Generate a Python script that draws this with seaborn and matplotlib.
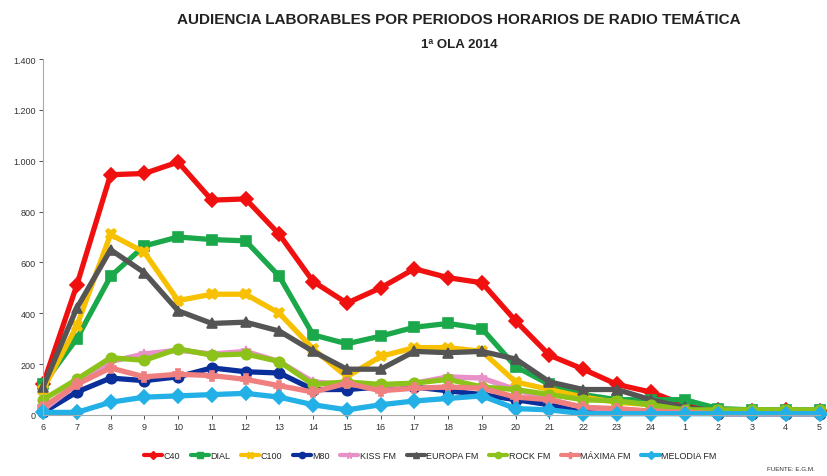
import matplotlib
matplotlib.use("Agg")
import matplotlib.pyplot as plt
import matplotlib.ticker as mticker
import seaborn as sns
import pandas as pd

# ---------------------------------------------------------------------------
# Data (audiencia, miles)
# ---------------------------------------------------------------------------
hours = ["6", "7", "8", "9", "10", "11", "12", "13", "14", "15", "16", "17",
         "18", "19", "20", "21", "22", "23", "24", "1", "2", "3", "4", "5"]

c40 = [120, 510, 945, 950, 995, 845, 850, 710, 525, 440, 500, 575,
       540, 520, 370, 235, 180, 120, 90, 40, 20, 15, 20, 15]
dial = [120, 300, 545, 665, 700, 690, 685, 545, 315, 280, 310, 345,
        360, 340, 190, 120, 80, 60, 60, 60, 25, 20, 20, 20]
c100 = [100, 350, 710, 640, 450, 475, 475, 400, 260, 150, 230, 265,
        265, 250, 130, 100, 70, 50, 40, 20, 15, 10, 15, 10]
m80 = [10, 90, 145, 135, 150, 185, 170, 165, 100, 100, 110, 110,
       95, 80, 60, 40, 20, 20, 15, 10, 5, 5, 5, 5]
kiss = [20, 120, 210, 240, 255, 240, 250, 210, 130, 120, 115, 125,
        150, 145, 100, 60, 30, 20, 15, 10, 5, 5, 5, 5]
europa = [110, 420, 650, 560, 410, 360, 365, 330, 250, 180, 180, 250,
          245, 250, 220, 130, 100, 100, 60, 30, 15, 10, 10, 10]
rock = [60, 140, 225, 215, 260, 235, 240, 210, 120, 130, 120, 125,
        140, 110, 100, 80, 60, 55, 40, 20, 20, 20, 20, 20]
maxima = [30, 120, 185, 150, 160, 155, 140, 115, 90, 125, 95, 105,
          110, 105, 70, 60, 30, 25, 15, 10, 5, 5, 5, 5]
melodia = [10, 10, 50, 70, 75, 80, 85, 70, 40, 20, 40, 55,
           65, 75, 25, 20, 5, 5, 5, 5, 5, 5, 5, 5]

series = {
    "C40": c40, "DIAL": dial, "C100": c100, "M80": m80, "KISS FM": kiss,
    "EUROPA FM": europa, "ROCK FM": rock, "MÁXIMA FM": maxima,
    "MELODIA FM": melodia,
}

colors = {
    "C40": "#f01010", "DIAL": "#1aa84a", "C100": "#f7c000", "M80": "#0a2f9a",
    "KISS FM": "#e890c8", "EUROPA FM": "#555555", "ROCK FM": "#8cc21a",
    "MÁXIMA FM": "#f08080", "MELODIA FM": "#22b0e6",
}
markers = {
    "C40": "D", "DIAL": "s", "C100": "X", "M80": "o", "KISS FM": "*",
    "EUROPA FM": "^", "ROCK FM": "o", "MÁXIMA FM": "P", "MELODIA FM": "D",
}

rows = []
for name, vals in series.items():
    for i, v in enumerate(vals):
        rows.append({"idx": i, "serie": name, "valor": v})
df = pd.DataFrame(rows)

sns.set_theme(style="white")
plt.rcParams["font.family"] = ["Liberation Sans", "DejaVu Sans"]

fig = plt.figure(figsize=(8.27, 4.77), dpi=100)
ax = fig.add_axes([0.052, 0.128, 0.939, 0.746])

sns.lineplot(data=df, x="idx", y="valor", hue="serie", style="serie",
             palette=colors, markers=markers, dashes=False, linewidth=3.8,
             markersize=7.5, markeredgewidth=1.2, ax=ax, legend=False,
             sort=False)
for ln in ax.lines:
    ln.set_clip_on(False)
    ln.set_markeredgecolor(ln.get_color())

ax.set_xlim(0, len(hours) - 1)
ax.set_ylim(0, 1400)
ax.set_xticks(range(len(hours)))
ax.set_xticklabels(hours)
ax.yaxis.set_major_locator(mticker.MultipleLocator(200))
ax.yaxis.set_major_formatter(
    mticker.FuncFormatter(lambda v, p: f"{int(v):,}".replace(",", ".")))
ax.tick_params(axis="both", labelsize=6.5, colors="#333333", length=3,
               width=0.6, pad=2)
ax.tick_params(axis="y", left=True)
ax.tick_params(axis="x", bottom=True)
ax.set_xlabel("")
ax.set_ylabel("")
for side in ["top", "right"]:
    ax.spines[side].set_visible(False)
for side in ["left", "bottom"]:
    ax.spines[side].set_color("#aaaaaa")
    ax.spines[side].set_linewidth(0.8)

fig.text(0.555, 0.958, "AUDIENCIA LABORABLES POR PERIODOS HORARIOS DE RADIO TEMÁTICA",
         ha="center", va="center", fontsize=11, fontweight="bold", color="#222222")
fig.text(0.555, 0.905, "1ª OLA 2014", ha="center", va="center",
         fontsize=9.5, fontweight="bold", color="#222222")

handles = [plt.Line2D([], [], color=colors[n], marker=markers[n], lw=3,
                      markersize=4.5, markeredgecolor=colors[n])
           for n in series]
fig.legend(handles, list(series.keys()), loc="center", ncol=9,
           bbox_to_anchor=(0.52, 0.042), frameon=False, fontsize=6.5,
           handlelength=2.0, handletextpad=0.15, columnspacing=1.2)

fig.text(0.985, 0.01, "FUENTE: E.G.M.", ha="right", va="bottom",
         fontsize=4.5, color="#333333")

fig.savefig("out.png", dpi=100)
